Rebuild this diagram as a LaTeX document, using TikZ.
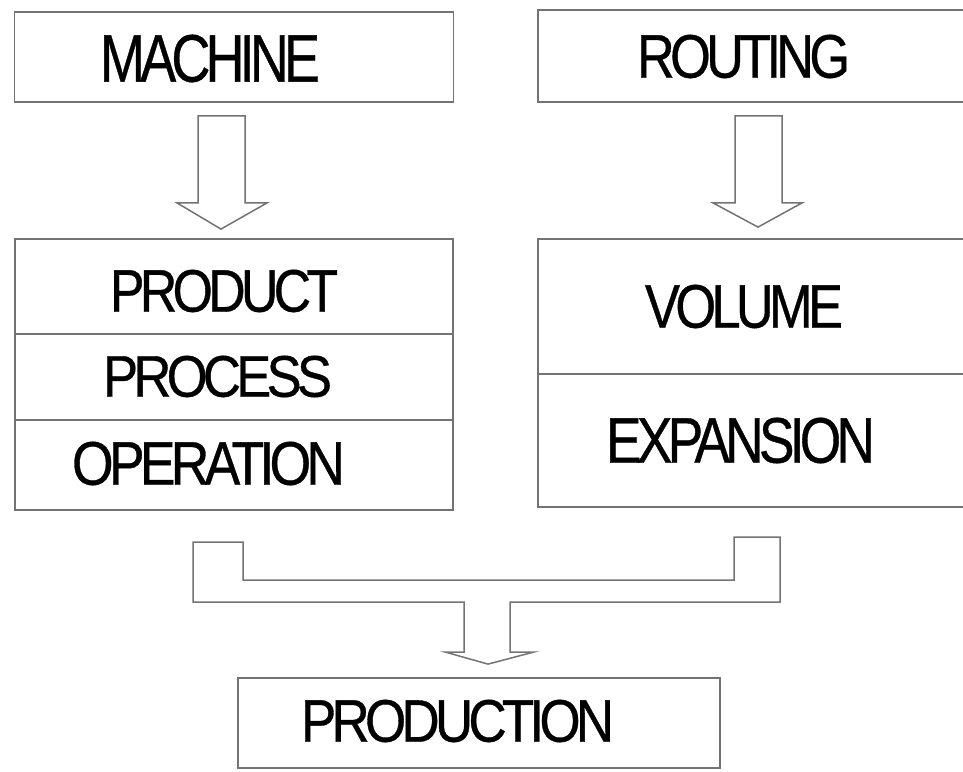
\documentclass[tikz,border=0pt]{standalone}
\usepackage{fontspec}
\setmainfont{Liberation Sans}
\newfontfamily\tightfont[LetterSpace=-9, FakeBold=0.6]{Liberation Sans}
\usetikzlibrary{calc}
\definecolor{linegray}{gray}{0.45}
\tikzset{
  box/.style={draw=linegray, line width=1.8pt, rectangle, inner sep=0pt, fill=none},
  txt/.style={inner sep=0pt, text=black, font=\tightfont},
  blockarrow/.style={draw=linegray, line width=1.5pt, line join=miter, fill=white},
}
\newcommand{\capword}[3]{\resizebox{#1pt}{#2pt}{#3}}
\begin{document}
\begin{tikzpicture}[x=1pt,y=-1pt]
\useasboundingbox (0,0) rectangle (963,771);
\clip (0,0) rectangle (963,771);
% top boxes
\node[box, minimum width=439pt, minimum height=90pt] (machine) at (234,57) {};
\node[box, minimum width=430pt, minimum height=92pt] (routing) at (753,56) {};
% left stack
\node[box, minimum width=438pt, minimum height=95pt] (product) at (234,286.5) {};
\node[box, minimum width=438pt, minimum height=86pt] (process) at (234,377) {};
\node[box, minimum width=438pt, minimum height=90pt] (operation) at (234,465) {};
% right stack
\node[box, minimum width=430pt, minimum height=135pt] (volume) at (753,306.5) {};
\node[box, minimum width=430pt, minimum height=133pt] (expansion) at (753,440.5) {};
% bottom box
\node[box, minimum width=482pt, minimum height=90pt] (production) at (479,723) {};
% texts
\node[txt] (tmachine) at (210,58.5) {\capword{220}{47}{MACHINE}};
\node[txt] (trouting) at (743.5,56.5) {\capword{213}{43}{ROUTING}};
\node[txt] (tproduct) at (224,291) {\capword{228}{42}{PRODUCT}};
\node[txt] (tprocess) at (217.5,376.5) {\capword{229}{41}{PROCESS}};
\node[txt] (toperation) at (208.5,463.5) {\capword{273}{43}{OPERATION}};
\node[txt] (tvolume) at (744,306.5) {\capword{198}{43}{VOLUME}};
\node[txt] (texpansion) at (740.5,440.5) {\capword{269}{45}{EXPANSION}};
\node[txt] (tproduction) at (457.5,721) {\capword{313}{42}{PRODUCTION}};
% hollow block arrows
\draw[blockarrow] ($(machine.south)+(-36,13)$) -- ($(machine.south)+(11,13)$)
  -- ($(machine.south)+(11,100)$) -- ($(machine.south)+(33,100)$)
  -- ($(product.north)+(-13,-9)$) -- ($(machine.south)+(-57,100)$)
  -- ($(machine.south)+(-36,100)$) -- cycle;
\draw[blockarrow] ($(routing.south)+(-18,13)$) -- ($(routing.south)+(29,13)$)
  -- ($(routing.south)+(29,100)$) -- ($(routing.south)+(49,100)$)
  -- ($(volume.north)+(5,-11)$) -- ($(routing.south)+(-40,100)$)
  -- ($(routing.south)+(-18,100)$) -- cycle;
% merging bracket arrow
\coordinate (bl) at (193,542);
\coordinate (br) at (780,537);
\draw[blockarrow] (bl) -- (243,542) -- (243,580) -- (734,580) -- (734,537)
  -- (br) -- (780,602) -- (510,602) -- (510,652) -- (534,652)
  -- ($(production.north)+(9,-13)$) -- (445,652) -- (464,652) -- (464,602)
  -- (193,602) -- cycle;
\end{tikzpicture}
\end{document}
